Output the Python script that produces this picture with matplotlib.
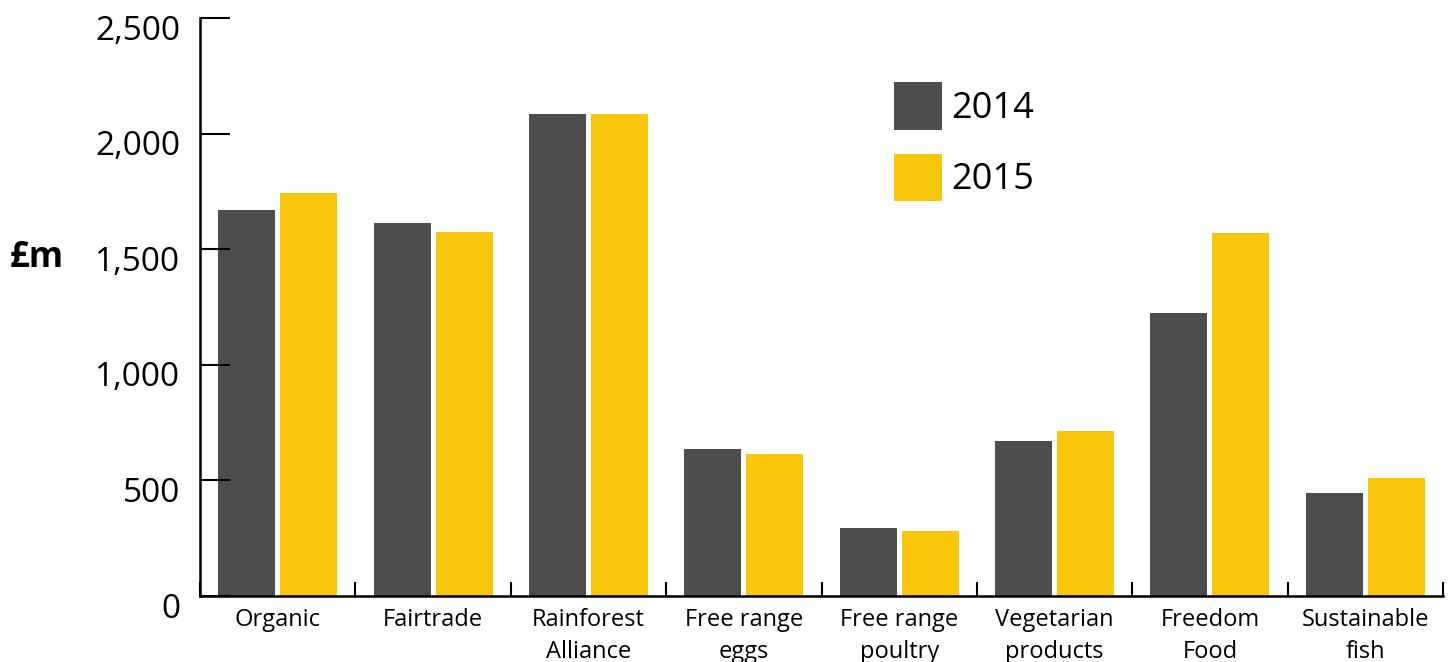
import matplotlib.pyplot as plt
import numpy as np
from matplotlib.transforms import ScaledTranslation

categories = ["Organic", "Fairtrade", "Rainforest\nAlliance", "Free range\neggs",
              "Free range\npoultry", "Vegetarian\nproducts", "Freedom\nFood", "Sustainable\nfish"]
sales_2014 = [1670, 1613, 2085, 636, 294, 670, 1224, 445]
sales_2015 = [1743, 1574, 2085, 614, 281, 714, 1570, 510]
yticks = [0, 500, 1000, 1500, 2000, 2500]

plt.rcParams['font.family'] = ['Open Sans', 'DejaVu Sans']

fig = plt.figure(figsize=(14.56, 6.62), dpi=100)
ax = fig.add_axes([200/1456, 66/662, 1243/1456, 578/662])

x = np.arange(len(categories)) + 0.5
w = 0.367
off = w/2 + 0.016
ax.bar(x - off, sales_2014, width=w, color='#4d4d4d', label='2014')
ax.bar(x + off, sales_2015, width=w, color='#f8c60a', label='2015')

ax.set_xlim(0, len(categories))
ax.set_ylim(0, 2500)

for s in ['top', 'right']:
    ax.spines[s].set_visible(False)
for s in ['left', 'bottom']:
    ax.spines[s].set_linewidth(1.8)

ax.set_yticks(yticks)
ax.set_yticklabels([f"{v:,}" for v in yticks])
ax.tick_params(axis='y', direction='in', length=21.5, width=1.5, pad=14, labelsize=24)
for lab in ax.get_yticklabels():
    lab.set_transform(lab.get_transform() + ScaledTranslation(0, -9/100, fig.dpi_scale_trans))

ax.set_xticks(np.arange(len(categories) + 1))
ax.set_xticklabels([])
ax.set_xticks(x, minor=True)
ax.set_xticklabels(categories, minor=True, fontsize=17, linespacing=1.4)
ax.tick_params(axis='x', which='major', direction='in', length=10, width=1.5)
ax.tick_params(axis='x', which='minor', length=0, pad=9)

fig.text(10/1456, 1 - 258/662, "£m", fontsize=25, fontweight='bold', va='center', ha='left')

ax.legend(loc='upper left', bbox_to_anchor=(894/1456, 1 - 82/662), bbox_transform=fig.transFigure,
          frameon=False, fontsize=26, handlelength=1.33, handleheight=1.66,
          handletextpad=0.25, labelspacing=0.66, borderpad=0, borderaxespad=0)

fig.savefig("out.png", dpi=100)
